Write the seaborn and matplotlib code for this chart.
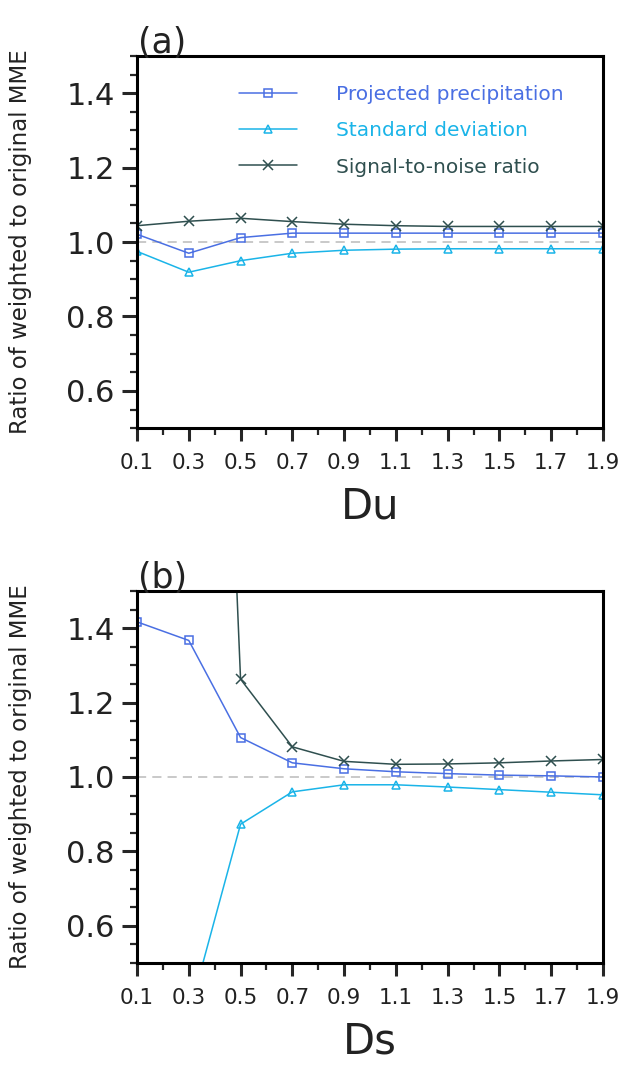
import numpy as np
import pandas as pd
import matplotlib
matplotlib.use("Agg")
import matplotlib.pyplot as plt
from matplotlib.ticker import MultipleLocator, FixedLocator
import seaborn as sns

# x values (Du for panel a, Ds for panel b)
d_values = [0.1, 0.3, 0.5, 0.7, 0.9, 1.1, 1.3, 1.5, 1.7, 1.9]

# panel (a): ratio of weighted to original MME vs Du
du_precip = [1.021, 0.970, 1.012, 1.024, 1.024, 1.024, 1.024, 1.024, 1.024, 1.024]
du_std = [0.975, 0.919, 0.950, 0.970, 0.978, 0.981, 0.982, 0.982, 0.982, 0.982]
du_snr = [1.044, 1.056, 1.064, 1.055, 1.048, 1.044, 1.042, 1.042, 1.042, 1.042]

# panel (b): ratio vs Ds (first points run off the plotted range)
ds_precip = [1.417, 1.367, 1.106, 1.038, 1.022, 1.014, 1.009, 1.005, 1.003, 1.000]
ds_std = [0.25, 0.36, 0.873, 0.960, 0.979, 0.979, 0.973, 0.966, 0.959, 0.952]
ds_snr = [6.0, 4.6, 1.263, 1.081, 1.042, 1.034, 1.035, 1.038, 1.043, 1.047]

series_names = ["Projected precipitation", "Standard deviation", "Signal-to-noise ratio"]
series_colors = ["#4a6fe3", "#1ab4e8", "#2f4f4f"]
series_markers = ["s", "^", "x"]

sns.set_style("ticks")
plt.rcParams['font.family'] = ['DejaVu Sans']

fig = plt.figure(figsize=(6.36, 10.65), dpi=100)
ax_a = fig.add_axes([0.2154, 0.598, 0.7327, 0.3494])
ax_b = fig.add_axes([0.2154, 0.0958, 0.7327, 0.3493])


def draw_panel(ax, vals, xlabel, tag, legend=False):
    for name, v, c, m in zip(series_names, vals, series_colors, series_markers):
        df = pd.DataFrame({'x': d_values, 'y': v})
        sns.lineplot(data=df, x='x', y='y', ax=ax, color=c, marker=m,
                     markersize=6 if m != "x" else 6.5,
                     markerfacecolor='none', markeredgecolor=c,
                     markeredgewidth=1.1, linewidth=1.1, label=name,
                     legend=False)
    ax.axhline(1.0, color='#bbbbbb', linestyle=(0, (6, 4)), linewidth=1.1, zorder=0)

    ax.set_xlim(0.1, 1.9)
    ax.set_ylim(0.5, 1.5)
    ax.xaxis.set_major_locator(FixedLocator(d_values))
    ax.xaxis.set_minor_locator(FixedLocator([0.2, 0.4, 0.6, 0.8, 1.0, 1.2, 1.4, 1.6, 1.8]))
    ax.yaxis.set_major_locator(FixedLocator([0.6, 0.8, 1.0, 1.2, 1.4]))
    ax.yaxis.set_minor_locator(MultipleLocator(0.05))
    ax.set_xticklabels([f"{v:.1f}" for v in d_values], fontsize=15.5, color='#222222')
    ax.set_yticklabels(["0.6", "0.8", "1.0", "1.2", "1.4"], fontsize=22, color='#222222')

    ax.tick_params(axis='y', which='major', direction='out', length=11, width=2.2, pad=5)
    ax.tick_params(axis='x', which='major', direction='out', length=9, width=2.2, pad=9)
    ax.tick_params(axis='both', which='minor', direction='out', length=5, width=1.6)
    for s in ax.spines.values():
        s.set_linewidth(2.2)
        s.set_color('black')

    ax.set_xlabel(xlabel, fontsize=30, color='#222222')
    ax.xaxis.set_label_coords(0.5, -0.155)
    ax.set_ylabel("Ratio of weighted to original MME", fontsize=16.5, color='#222222')
    ax.yaxis.set_label_coords(-0.225, 0.5)

    ax.text(0.054, 0.99, tag, transform=ax.transAxes, ha='center', va='bottom',
            fontsize=25, color='#222222')

    if legend:
        ax.legend(loc='upper left', bbox_to_anchor=(0.18, 0.97), frameon=False,
                  labelcolor='linecolor', handlelength=2.9, handletextpad=1.9,
                  labelspacing=0.85, fontsize=14.5, numpoints=1)


draw_panel(ax_a, [du_precip, du_std, du_snr], "Du", "(a)", legend=True)
draw_panel(ax_b, [ds_precip, ds_std, ds_snr], "Ds", "(b)")

fig.savefig("out.png", dpi=100)
